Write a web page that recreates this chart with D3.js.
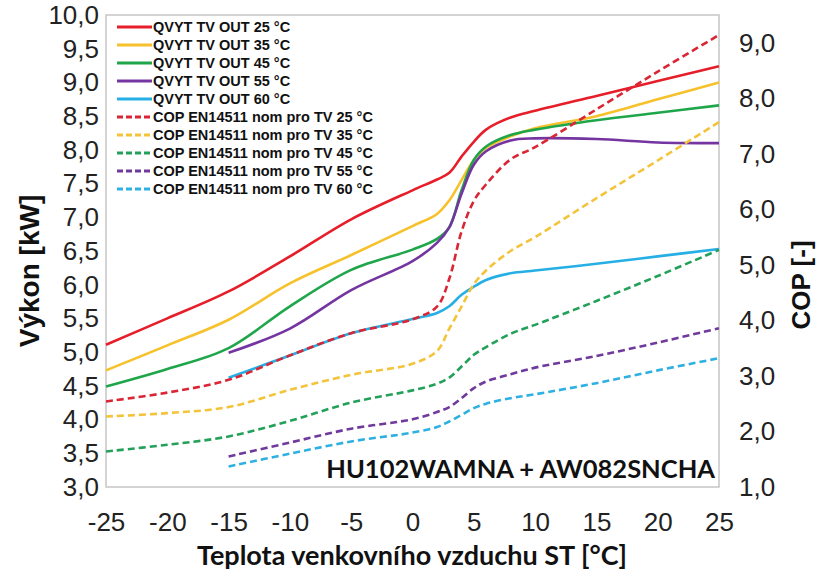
<!DOCTYPE html>
<html><head><meta charset="utf-8">
<script src="https://cdn.jsdelivr.net/npm/d3@7"></script>
<style>
body{margin:0;background:#fff;}
svg{display:block;}
</style></head>
<body>
<svg id="chart" width="826" height="585"></svg>
<script>
// ---- data ----
const temps = [-25,-20,-15,-10,-5,0,2,3,4,5,6,8,10,15,20,25];
const q25 = [5.11,5.50,5.90,6.42,6.97,7.40,7.56,7.66,7.90,8.12,8.30,8.48,8.58,8.80,9.02,9.24];
const q35 = [4.73,5.10,5.48,6.02,6.44,6.87,7.05,7.25,7.55,7.85,8.03,8.20,8.32,8.50,8.75,9.00];
const q45 = [4.49,4.75,5.06,5.68,6.22,6.52,6.68,6.85,7.40,7.85,8.05,8.22,8.30,8.44,8.55,8.66];
const q55 = [null,null,4.99,5.35,5.92,6.35,6.62,6.85,7.35,7.78,7.98,8.14,8.17,8.16,8.11,8.10];
const q60 = [null,null,4.62,4.95,5.28,5.49,5.58,5.68,5.85,5.97,6.07,6.17,6.21,6.31,6.42,6.53];
const cop25 = [2.54,2.70,2.93,3.37,3.77,4.02,4.25,4.75,5.60,6.15,6.45,6.90,7.12,7.80,8.48,9.14];
const cop35 = [2.27,2.33,2.44,2.75,3.02,3.22,3.45,3.85,4.25,4.65,4.90,5.25,5.50,6.20,6.88,7.57];
const cop45 = [1.64,1.76,1.91,2.19,2.52,2.74,2.86,2.97,3.17,3.38,3.52,3.76,3.92,4.35,4.80,5.27];
const cop55 = [null,null,1.55,1.80,2.05,2.22,2.35,2.44,2.60,2.78,2.90,3.03,3.15,3.36,3.60,3.86];
const cop60 = [null,null,1.37,1.60,1.82,1.98,2.08,2.18,2.30,2.42,2.50,2.60,2.67,2.87,3.10,3.32];

const xTicks = [-25,-20,-15,-10,-5,0,5,10,15,20,25];
const yLeftTicks = [3,3.5,4,4.5,5,5.5,6,6.5,7,7.5,8,8.5,9,9.5,10];
const yRightTicks = [1,2,3,4,5,6,7,8,9];

const qNames = ["QVYT TV OUT 25 °C","QVYT TV OUT 35 °C","QVYT TV OUT 45 °C","QVYT TV OUT 55 °C","QVYT TV OUT 60 °C"];
const copNames = ["COP EN14511 nom pro TV 25 °C","COP EN14511 nom pro TV 35 °C","COP EN14511 nom pro TV 45 °C","COP EN14511 nom pro TV 55 °C","COP EN14511 nom pro TV 60 °C"];
const colors = ["#e61e2a","#f6c12a","#1fa64b","#7435a0","#26afe5"];
const dashColors = ["#da2534","#f3c33a","#23a05a","#6f3a9c","#2fb0e3"];
const qSeries = [q25,q35,q45,q55,q60];
const copSeries = [cop25,cop35,cop45,cop55,cop60];

// ---- layout ----
const L = 106, R = 719, T = 15, B = 487;
const svg = d3.select("#chart");
const x = d3.scaleLinear().domain([-25,25]).range([L,R]);
const yL = d3.scaleLinear().domain([3,10]).range([B,T]);
const yR = d3.scaleLinear().domain([1,9.5]).range([B,T]);
const fmt = d => d3.format(".1f")(d).replace(".",",");

const tickFont = "'Liberation Sans Narrow','Liberation Sans',Arial,sans-serif";

// frame
svg.append("rect").attr("x",L).attr("y",T).attr("width",R-L).attr("height",B-T)
  .attr("fill","#fff").attr("stroke","#c6c6c6").attr("stroke-width",1.5);

// axes
const gx = svg.append("g").attr("transform",`translate(0,${B})`)
  .call(d3.axisBottom(x).tickValues(xTicks).tickSize(0).tickPadding(26).tickFormat(d=>String(d)));
const gl = svg.append("g").attr("transform",`translate(${L},0)`)
  .call(d3.axisLeft(yL).tickValues(yLeftTicks).tickSize(0).tickPadding(7).tickFormat(fmt));
const gr = svg.append("g").attr("transform",`translate(${R},0)`)
  .call(d3.axisRight(yR).tickValues(yRightTicks).tickSize(0).tickPadding(20).tickFormat(fmt));
[gx,gl,gr].forEach(g=>{
  g.select(".domain").remove();
  g.selectAll("text").attr("font-family",tickFont).attr("font-size",26).attr("fill","#222");
});

// lines
const mk = (scale) => d3.line()
  .defined(d=>d[1]!=null)
  .x(d=>x(d[0])).y(d=>scale(d[1]))
  .curve(d3.curveCatmullRom.alpha(0.5));
const lineL = mk(yL), lineR = mk(yR);

qSeries.forEach((s,i)=>{
  svg.append("path").datum(temps.map((t,j)=>[t,s[j]]).filter(d=>d[1]!=null))
    .attr("d",lineL).attr("fill","none").attr("stroke",colors[i]).attr("stroke-width",2.6);
});
copSeries.forEach((s,i)=>{
  svg.append("path").datum(temps.map((t,j)=>[t,s[j]]).filter(d=>d[1]!=null))
    .attr("d",lineR).attr("fill","none").attr("stroke",dashColors[i]).attr("stroke-width",2.6)
    .attr("stroke-dasharray","7,4");
});

// legend
const leg = svg.append("g");
const legItems = qNames.map((n,i)=>({n,c:colors[i],dash:null}))
  .concat(copNames.map((n,i)=>({n,c:dashColors[i],dash:"6,3"})));
legItems.forEach((it,i)=>{
  const yy = 27 + i*18;
  leg.append("line").attr("x1",117).attr("x2",152).attr("y1",yy).attr("y2",yy)
    .attr("stroke",it.c).attr("stroke-width",3).attr("stroke-dasharray",it.dash);
  leg.append("text").attr("x",153).attr("y",yy+5).text(it.n)
    .attr("font-family","'Liberation Sans',Arial,sans-serif").attr("font-weight","bold")
    .attr("font-size",14.5).attr("fill","#111");
});

// model label
svg.append("text").attr("x",715).attr("y",478).attr("text-anchor","end")
  .attr("font-family","Lato,'Open Sans',sans-serif").attr("font-weight","bold")
  .attr("font-size",25.5).attr("fill","#111").text("HU102WAMNA + AW082SNCHA");

// axis titles
svg.append("text").attr("x",412).attr("y",565).attr("text-anchor","middle")
  .attr("font-family","Lato,'Open Sans',sans-serif").attr("font-weight","bold")
  .attr("font-size",27).attr("fill","#111").text("Teplota venkovního vzduchu ST [°C]");
svg.append("text").attr("transform","translate(39,271) rotate(-90)").attr("text-anchor","middle")
  .attr("font-family","'Liberation Sans',Arial,sans-serif").attr("font-weight","bold")
  .attr("font-size",28).attr("fill","#111").text("Výkon [kW]");
svg.append("text").attr("transform","translate(810,285) rotate(-90)").attr("text-anchor","middle")
  .attr("font-family","'Liberation Sans',Arial,sans-serif").attr("font-weight","bold")
  .attr("font-size",26).attr("fill","#111").text("COP [-]");
</script>
</body></html>
